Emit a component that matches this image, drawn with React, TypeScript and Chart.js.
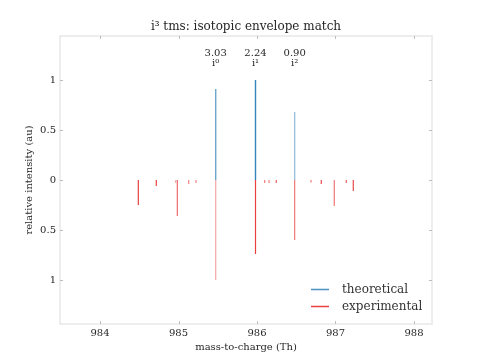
import React, { useEffect, useRef } from "react";
import { Chart, registerables } from "chart.js";

Chart.register(...registerables);

// ---- data ----
const theoMz = [985.474, 985.981, 986.48];
const theoInt = [0.91, 1.0, 0.68];

const expMz = [
  984.488, 984.717, 984.964, 984.985, 985.13, 985.223, 985.474, 985.981,
  986.098, 986.153, 986.246, 986.48, 986.688, 986.819, 986.985, 987.138, 987.227,
];
const expInt = [
  0.25, 0.06, 0.03, 0.36, 0.04, 0.03, 1.0, 0.74,
  0.03, 0.03, 0.03, 0.6, 0.025, 0.04, 0.26, 0.03, 0.11,
];

const scoreLabels = ["3.03", "2.24", "0.90"];
const isoLabels = ["i\u2070", "i\u00b9", "i\u00b2"];

const xTicks = [984, 985, 986, 987, 988];
const yTicks = [-1, -0.5, 0, 0.5, 1];

const seriesNames = ["theoretical", "experimental"];
const titleText = "i\u00b3 tms: isotopic envelope match";
const xTitle = "mass-to-charge (Th)";
const yTitle = "relative intensity (au)";

// ---- styles (kept separate from data) ----
const theoAlpha = [0.65, 0.9, 0.45];
const expAlpha = [0.85, 0.85, 0.4, 0.65, 0.55, 0.55, 0.4, 0.85, 0.6, 0.55, 0.7, 0.6, 0.6, 0.8, 0.6, 0.7, 0.8];
const BLUE = (a: number) => `rgba(31,119,180,${a})`;
const RED = (a: number) => `rgba(230,30,30,${a})`;
const FONT = "'DejaVu Serif', serif";
const TEXT = "#262626";

function stems(mz: number[], ints: number[], sign: number) {
  const out: any[] = [];
  mz.forEach((m, i) => {
    out.push({ x: m, y: 0 });
    out.push({ x: m, y: sign * ints[i] });
    out.push({ x: m, y: null });
  });
  return out;
}

const framePlugin = {
  id: "frame",
  afterDraw(chart: any) {
    const { ctx, chartArea: a, scales } = chart;
    const xs = scales.x;
    const ys = scales.y;
    ctx.save();
    // frame
    ctx.strokeStyle = "#e8e8e8";
    ctx.lineWidth = 1.5;
    ctx.strokeRect(a.left, a.top, a.right - a.left, a.bottom - a.top);
    // inside ticks
    ctx.strokeStyle = "#bdbdbd";
    ctx.lineWidth = 1;
    xTicks.forEach((v) => {
      const px = Math.round(xs.getPixelForValue(v)) + 0.5;
      ctx.beginPath();
      ctx.moveTo(px, a.bottom);
      ctx.lineTo(px, a.bottom - 3);
      ctx.moveTo(px, a.top);
      ctx.lineTo(px, a.top + 3);
      ctx.stroke();
    });
    yTicks.forEach((v) => {
      const py = Math.round(ys.getPixelForValue(v)) + 0.5;
      ctx.beginPath();
      ctx.moveTo(a.left, py);
      ctx.lineTo(a.left + 3, py);
      ctx.moveTo(a.right, py);
      ctx.lineTo(a.right - 3, py);
      ctx.stroke();
    });
    // title, centred over the plot area
    ctx.fillStyle = TEXT;
    ctx.textAlign = "center";
    ctx.textBaseline = "middle";
    ctx.font = `12px ${FONT}`;
    ctx.fillText(titleText, (a.left + a.right) / 2, a.top - 9);
    // annotations
    ctx.font = `10px ${FONT}`;
    theoMz.forEach((m, i) => {
      const px = xs.getPixelForValue(m);
      ctx.fillText(scoreLabels[i], px, ys.getPixelForValue(1.262));
      ctx.fillText(isoLabels[i], px, ys.getPixelForValue(1.162));
    });
    // legend
    const colors = [BLUE(0.8), RED(0.85)];
    ctx.font = `12px ${FONT}`;
    ctx.textAlign = "left";
    seriesNames.forEach((name, i) => {
      const y = a.bottom - 35 + i * 17;
      ctx.strokeStyle = colors[i];
      ctx.lineWidth = 1.5;
      ctx.beginPath();
      ctx.moveTo(a.right - 121, y + 0.5);
      ctx.lineTo(a.right - 103, y + 0.5);
      ctx.stroke();
      ctx.fillStyle = "#333";
      ctx.fillText(name, a.right - 90, y + 1);
    });
    ctx.restore();
  },
};

export default function App() {
  const ref = useRef<HTMLCanvasElement | null>(null);
  useEffect(() => {
    if (!ref.current) return;
    const chart = new Chart(ref.current, {
      type: "line",
      data: {
        datasets: [
          {
            label: seriesNames[0],
            data: stems(theoMz, theoInt, 1),
            borderColor: BLUE(0.8),
            borderWidth: 1.4,
            pointRadius: 0,
            spanGaps: false,
            segment: {
              borderColor: (c: any) => BLUE(theoAlpha[Math.floor(c.p0DataIndex / 3)] ?? 0.8),
            },
          },
          {
            label: seriesNames[1],
            data: stems(expMz, expInt, -1),
            borderColor: RED(0.85),
            borderWidth: 1.2,
            pointRadius: 0,
            spanGaps: false,
            segment: {
              borderColor: (c: any) => RED(expAlpha[Math.floor(c.p0DataIndex / 3)] ?? 0.8),
            },
          },
        ],
      },
      options: {
        animation: false,
        responsive: false,
        maintainAspectRatio: false,
        layout: { padding: { left: 0, right: 48, top: 36, bottom: 0 } },
        plugins: {
          legend: { display: false },
          tooltip: { enabled: false },
          title: { display: false },
        },
        scales: {
          x: {
            type: "linear",
            min: 983.49,
            max: 988.23,
            grid: { display: false, drawTicks: false },
            border: { display: false },
            afterBuildTicks: (s: any) => {
              s.ticks = xTicks.map((v) => ({ value: v }));
            },
            afterFit: (s: any) => {
              s.height = 36;
            },
            ticks: {
              color: TEXT,
              font: { family: FONT, size: 10 },
              padding: 3,
              maxRotation: 0,
              callback: (v: any) => String(v),
            },
            title: {
              display: true,
              text: xTitle,
              color: TEXT,
              font: { family: FONT, size: 10 },
              padding: { top: 0, bottom: 6.5 },
            },
          },
          y: {
            type: "linear",
            min: -1.44,
            max: 1.44,
            grid: { display: false, drawTicks: false },
            border: { display: false },
            afterBuildTicks: (s: any) => {
              s.ticks = yTicks.map((v) => ({ value: v }));
            },
            afterFit: (s: any) => {
              s.width = 60;
            },
            ticks: {
              color: TEXT,
              font: { family: FONT, size: 10 },
              padding: 4,
              callback: (v: any) => String(Math.abs(Number(v))),
            },
            title: {
              display: true,
              text: yTitle,
              color: TEXT,
              font: { family: FONT, size: 10 },
              padding: { top: 23.5, bottom: 0 },
            },
          },
        },
      },
      plugins: [framePlugin],
    } as any);
    return () => chart.destroy();
  }, []);
  return (
    <div style={{ position: "fixed", left: 0, top: 0, width: 480, height: 360, background: "#fff" }}>
      <canvas ref={ref} width={480} height={360} style={{ width: 480, height: 360 }} />
    </div>
  );
}
